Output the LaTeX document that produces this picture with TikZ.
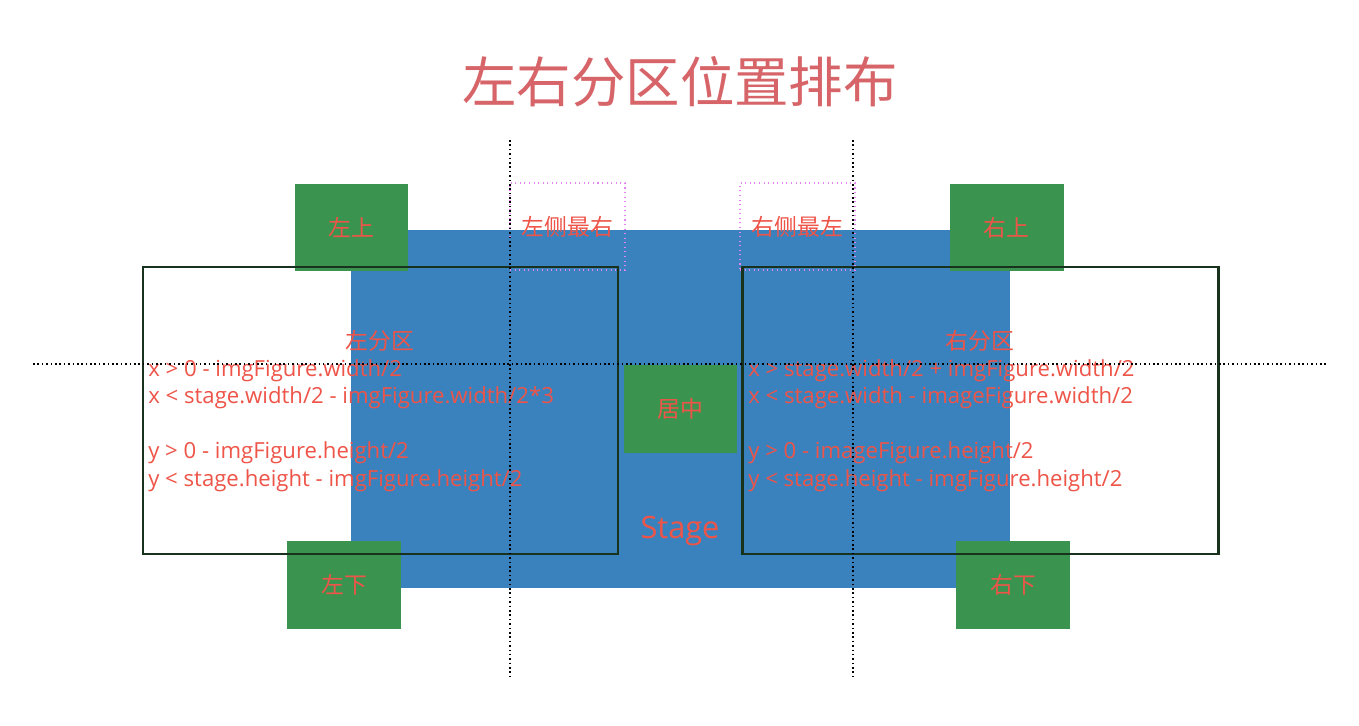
\documentclass[tikz,border=0pt]{standalone}
\usepackage{fontspec}
\setmainfont{Open Sans}
\newfontfamily\cjkfont{Noto Sans CJK SC}
\usepackage{xcolor}
\definecolor{stageblue}{RGB}{58,130,190}
\definecolor{figgreen}{RGB}{58,148,80}
\definecolor{labelred}{RGB}{238,84,72}
\definecolor{titlered}{RGB}{214,100,104}
\definecolor{partline}{RGB}{24,50,30}
\definecolor{guideviolet}{RGB}{228,130,240}

\begin{document}
\begin{tikzpicture}[x=0.02cm,y=-0.02cm,
        figbox/.style={fill=figgreen, minimum width=2.28cm, minimum height=1.76cm, inner sep=0pt,
            text=labelred, font=\cjkfont\fontsize{13}{13}\selectfont},
        edgebox/.style={draw=guideviolet, dotted, line width=0.6pt, minimum width=2.3cm, minimum height=1.74cm,
            inner sep=0pt, text=labelred, font=\cjkfont\fontsize{13}{13}\selectfont},
        partbox/.style={draw=partline, line width=1.3pt, minimum height=5.74cm, inner sep=0pt},
        rule/.style={text=labelred, anchor=base west, inner sep=0pt, font=\fontsize{12.6}{12.6}\selectfont},
        guide/.style={black, line width=0.9pt, dash pattern=on 0.9pt off 1.6pt}]
        % White page (fixes the margins)
        \fill [white] (0,0) rectangle (1359,726);
        \useasboundingbox (0,0) rectangle (1359,726);
        % Title
        \node[text=titlered, font=\cjkfont\fontsize{31}{31}\selectfont] (title) at (680,82) {左右分区位置排布};
        % Stage
        \node[fill=stageblue, minimum width=13.18cm, minimum height=7.16cm, inner sep=0pt] (stage) at (680.5,409) {};
        \node[text=labelred, font=\fontsize{17.5}{17.5}\selectfont] (stagelabel) at (680,531) {Stage};
        % Image figures at the corners and in the centre
        \node[figbox] (lefttop) at (351.5,227.5) {左上};
        \node[figbox] (righttop) at (1006.5,227.5) {右上};
        \node[figbox] (leftbottom) at (344,585) {左下};
        \node[figbox] (rightbottom) at (1013,585) {右下};
        \node[figbox] (centre) at (680.5,409) {居中};
        % Left and right partitions
        \node[partbox, minimum width=9.5cm] (leftpart) at (380.5,410.5) {};
        \node[partbox, minimum width=9.52cm] (rightpart) at (980.5,410.5) {};
        \node[text=labelred, font=\cjkfont\fontsize{13}{13}\selectfont] (leftname) at (380,341) {左分区};
        \node[text=labelred, font=\cjkfont\fontsize{13}{13}\selectfont] (rightname) at (980,341) {右分区};
        % Inner edges of the partitions
        \node[edgebox] (leftedge) at (567.5,226.5) {左侧最右};
        \node[edgebox] (rightedge) at (797.5,226.5) {右侧最左};
        % Ranges of the left partition
        \node[rule] (leftx1) at (148,376) {x > 0 - imgFigure.width/2};
        \node[rule] (leftx2) at (148,403) {x < stage.width/2 - imgFigure.width/2*3};
        \node[rule] (lefty1) at (148,458) {y > 0 - imgFigure.height/2};
        \node[rule] (lefty2) at (148,486) {y < stage.height - imgFigure.height/2};
        % Ranges of the right partition
        \node[rule] (rightx1) at (748,376) {x > stage.width/2 + imgFigure.width/2};
        \node[rule] (rightx2) at (748,403) {x < stage.width - imageFigure.width/2};
        \node[rule] (righty1) at (748,458) {y > 0 - imageFigure.height/2};
        \node[rule] (righty2) at (748,486) {y < stage.height - imgFigure.height/2};
        % Dotted guide lines
        \coordinate (leftguidetop) at (510,140);
        \coordinate (leftguidebottom) at (510,680);
        \coordinate (rightguidetop) at (853,140);
        \coordinate (rightguidebottom) at (853,680);
        \coordinate (midguideleft) at (33,364);
        \coordinate (midguideright) at (1328,364);
        \draw[guide] (leftguidetop) -- (leftguidebottom);
        \draw[guide] (rightguidetop) -- (rightguidebottom);
        \draw[guide] (midguideleft) -- (midguideright);
    \end{tikzpicture}
\end{document}
